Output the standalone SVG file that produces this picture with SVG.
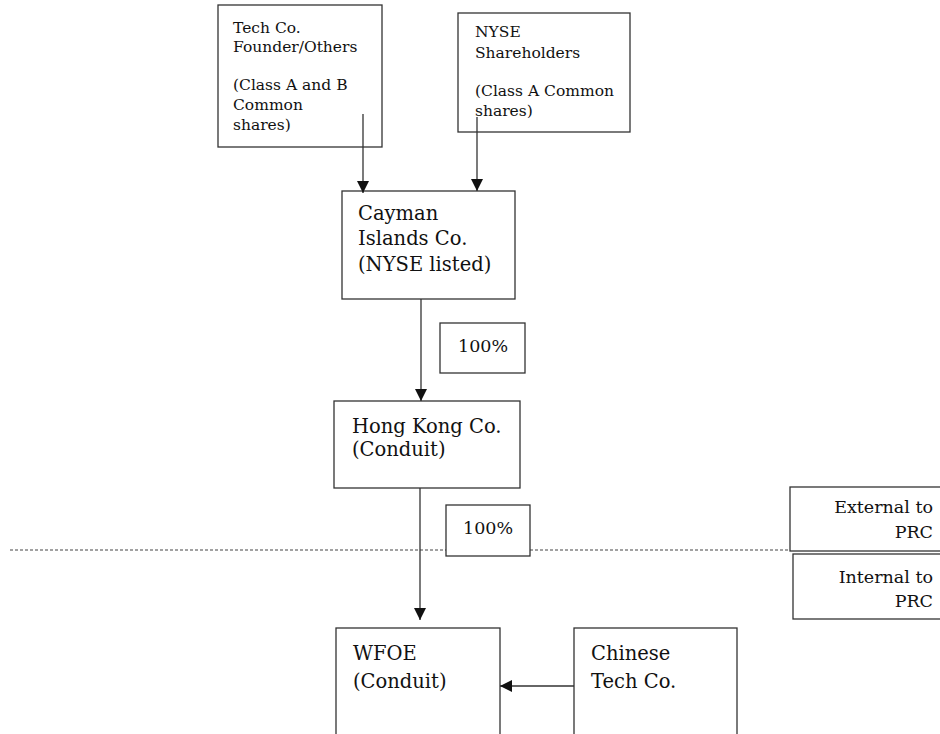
<svg xmlns="http://www.w3.org/2000/svg" width="940" height="734" viewBox="0 0 940 734">
<style>
.box{fill:#fff;stroke:#333;stroke-width:1.3}
.t{font-family:"DejaVu Serif","Liberation Serif",serif;fill:#111}
.s{font-size:15.5px}
.l{font-size:19.5px}
.m{font-size:17.5px}
.r{text-anchor:end}
.c{stroke:#333;stroke-width:1.3;fill:none}
.d{stroke:#444;stroke-width:1.2;stroke-dasharray:3 2;fill:none}
</style>
<defs>
<marker id="ah" viewBox="0 0 12 12" refX="12" refY="6" markerWidth="12" markerHeight="12" markerUnits="userSpaceOnUse" orient="auto">
<path d="M0,0 L12,6 L0,12 z" fill="#111"/>
</marker>
</defs>
<g id="divider">
<line class="d" x1="10" y1="550" x2="790" y2="550"/>
</g>
<g id="founders">
<rect class="box" x="218" y="5" width="164" height="142"/>
<text class="t s" x="233" y="33">Tech Co.</text>
<text class="t s" x="233" y="52">Founder/Others</text>
<text class="t s" x="233" y="90">(Class A and B</text>
<text class="t s" x="233" y="110">Common</text>
<text class="t s" x="233" y="130">shares)</text>
</g>
<g id="nyse">
<rect class="box" x="458" y="13" width="172" height="119"/>
<text class="t s" x="475" y="37">NYSE</text>
<text class="t s" x="475" y="58">Shareholders</text>
<text class="t s" x="475" y="96">(Class A Common</text>
<text class="t s" x="475" y="116">shares)</text>
</g>
<g id="cayman">
<rect class="box" x="342" y="191" width="173" height="108"/>
<text class="t l" x="358" y="220">Cayman</text>
<text class="t l" x="358" y="245">Islands Co.</text>
<text class="t l" x="358" y="271">(NYSE listed)</text>
</g>
<g id="pct1">
<rect class="box" x="440" y="323" width="85" height="50"/>
<text class="t m" x="458" y="352">100%</text>
</g>
<g id="hongkong">
<rect class="box" x="334" y="401" width="186" height="87"/>
<text class="t l" x="352" y="433">Hong Kong Co.</text>
<text class="t l" x="352" y="456">(Conduit)</text>
</g>
<g id="pct2">
<rect class="box" x="446" y="505" width="84" height="51"/>
<text class="t m" x="463" y="534">100%</text>
</g>
<g id="external">
<rect class="box" x="790" y="487" width="160" height="64"/>
<text class="t m r" x="933" y="513">External to</text>
<text class="t m r" x="933" y="538">PRC</text>
</g>
<g id="internal">
<rect class="box" x="793" y="554" width="160" height="65"/>
<text class="t m r" x="933" y="583">Internal to</text>
<text class="t m r" x="933" y="607">PRC</text>
</g>
<g id="wfoe">
<rect class="box" x="336" y="628" width="164" height="120"/>
<text class="t l" x="353" y="660">WFOE</text>
<text class="t l" x="353" y="688">(Conduit)</text>
</g>
<g id="chinese">
<rect class="box" x="574" y="628" width="163" height="120"/>
<text class="t l" x="591" y="660">Chinese</text>
<text class="t l" x="591" y="688">Tech Co.</text>
</g>
<g id="connectors">
<line class="c" x1="363" y1="114" x2="363" y2="193" marker-end="url(#ah)"/>
<line class="c" x1="477" y1="117" x2="477" y2="191" marker-end="url(#ah)"/>
<line class="c" x1="421" y1="299" x2="421" y2="401" marker-end="url(#ah)"/>
<line class="c" x1="420" y1="488" x2="420" y2="620" marker-end="url(#ah)"/>
<line class="c" x1="574" y1="686" x2="500" y2="686" marker-end="url(#ah)"/>
</g>
</svg>
